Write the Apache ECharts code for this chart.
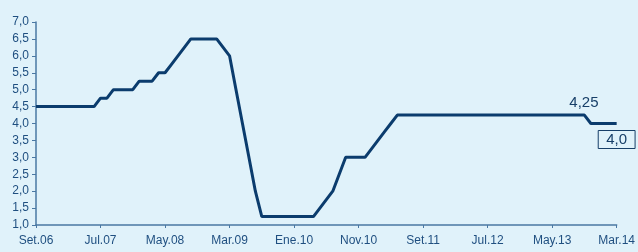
<!DOCTYPE html>
<html>
<head>
<meta charset="utf-8">
<script src="https://cdn.jsdelivr.net/npm/echarts@6/dist/echarts.min.js"></script>
<style>
  html, body { margin: 0; padding: 0; background: #e0f2fa; }
  #mainChart { width: 638px; height: 252px; }
</style>
</head>
<body>
<div id="mainChart"></div>
<script>
// meses en español (Set.06 .. Mar.14)
const monthNames = ['Ene', 'Feb', 'Mar', 'Abr', 'May', 'Jun', 'Jul', 'Ago', 'Set', 'Oct', 'Nov', 'Dic'];
const startYear = 2006, startMonth = 8, monthCount = 91;

// tasa de referencia, un valor por mes
const rateValues = [
  4.5, 4.5, 4.5, 4.5, 4.5, 4.5, 4.5, 4.5, 4.5, 4.5,
  4.75, 4.75, 5.0, 5.0, 5.0, 5.0, 5.25, 5.25, 5.25, 5.5,
  5.5, 5.75, 6.0, 6.25, 6.5, 6.5, 6.5, 6.5, 6.5, 6.25,
  6.0, 5.0, 4.0, 3.0, 2.0, 1.25, 1.25, 1.25, 1.25, 1.25,
  1.25, 1.25, 1.25, 1.25, 1.5, 1.75, 2.0, 2.5, 3.0, 3.0,
  3.0, 3.0, 3.25, 3.5, 3.75, 4.0, 4.25, 4.25, 4.25, 4.25,
  4.25, 4.25, 4.25, 4.25, 4.25, 4.25, 4.25, 4.25, 4.25, 4.25,
  4.25, 4.25, 4.25, 4.25, 4.25, 4.25, 4.25, 4.25, 4.25, 4.25,
  4.25, 4.25, 4.25, 4.25, 4.25, 4.25, 4.0, 4.0, 4.0, 4.0,
  4.0
];

const tickLabels = ['Set.06', 'Jul.07', 'May.08', 'Mar.09', 'Ene.10', 'Nov.10', 'Set.11', 'Jul.12', 'May.13', 'Mar.14'];

const notes = [
  { idx: 84, value: 4.25, text: '4,25', boxed: false },
  { idx: 90, value: 4.0, text: '4,0', boxed: true }
];

let categories = [];
for (let i = 0; i < monthCount; i++) {
  let m = (startMonth + i) % 12;
  let y = startYear + Math.floor((startMonth + i) / 12);
  categories.push(monthNames[m] + '.' + String(y).slice(2));
}

const textColor = '#1f4f80';
const axisColor = '#4a78a3';
const font = "'Liberation Sans Narrow', 'Liberation Sans', sans-serif";

let chart = echarts.init(document.getElementById('mainChart'));
let option = {
  backgroundColor: '#e0f2fa',
  animation: false,
  grid: { left: 36, right: 17, top: 22, bottom: 27 },
  xAxis: {
    type: 'category',
    data: categories,
    boundaryGap: false,
    axisLine: { lineStyle: { color: axisColor, width: 1.5 } },
    axisTick: { interval: 9, length: 3, lineStyle: { color: axisColor } },
    axisLabel: {
      interval: 9,
      margin: 10,
      color: textColor,
      fontFamily: font,
      fontSize: 12,
      formatter: function (v, i) { return tickLabels[i / 10] || v; }
    }
  },
  yAxis: {
    type: 'value',
    min: 1,
    max: 7,
    interval: 0.5,
    splitLine: { show: false },
    axisLine: { show: true, lineStyle: { color: axisColor, width: 1.5 } },
    axisTick: { show: true, length: 4, lineStyle: { color: axisColor } },
    axisLabel: {
      margin: 7,
      color: textColor,
      fontFamily: font,
      fontSize: 12,
      formatter: function (v) { return v.toFixed(1).replace('.', ','); }
    }
  },
  series: [
    {
      type: 'line',
      data: rateValues,
      showSymbol: false,
      lineStyle: { color: '#0b3c6d', width: 3 },
      markPoint: {
        symbolSize: 0,
        data: notes.map(function (n) {
          return {
            coord: [n.idx, n.value],
            label: {
              show: true,
              formatter: n.text,
              color: '#173f68',
              fontFamily: font,
              fontSize: 15,
              offset: n.boxed ? [0, 16] : [6, -12],
              borderColor: n.boxed ? '#173f68' : 'transparent',
              borderWidth: n.boxed ? 1 : 0,
              padding: n.boxed ? [2, 8, 1, 8] : 0
            }
          };
        })
      }
    }
  ]
};
chart.setOption(option);
</script>
</body>
</html>
